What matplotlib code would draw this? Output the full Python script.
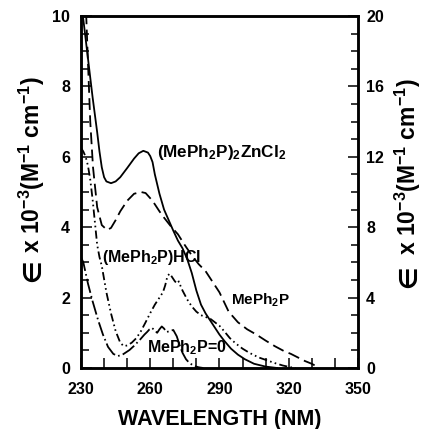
import matplotlib
matplotlib.use("Agg")
import matplotlib.pyplot as plt
from matplotlib.ticker import MultipleLocator

plt.rcParams['font.family'] = ['Liberation Sans', 'DejaVu Sans']
plt.rcParams['font.weight'] = 'bold'
plt.rcParams['mathtext.fontset'] = 'custom'
plt.rcParams['mathtext.rm'] = 'Liberation Sans:bold'
plt.rcParams['mathtext.it'] = 'Liberation Sans:bold'
plt.rcParams['mathtext.bf'] = 'Liberation Sans:bold'
plt.rcParams['mathtext.default'] = 'rm'

# (MePh2P)2ZnCl2 - solid
zn_x = [230, 231, 233, 235, 237, 238, 239, 240, 241, 243, 245, 247, 250, 253, 255, 257, 259, 260,
        261, 262, 264, 266, 268, 270, 272, 274, 276, 278, 280, 282, 284, 286, 288, 290, 292, 295,
        298, 301, 305, 310, 315]
zn_y = [10.3, 9.9, 8.8, 7.7, 6.7, 6.15, 5.7, 5.42, 5.3, 5.25, 5.3, 5.42, 5.68, 5.95, 6.1, 6.17, 6.12, 6.02,
        5.85, 5.5, 4.95, 4.5, 4.2, 3.9, 3.62, 3.4, 3.1, 2.7, 2.2, 1.8, 1.55, 1.35, 1.15, 0.95, 0.78, 0.55,
        0.38, 0.25, 0.12, 0.04, 0.0]

# MePh2P - long dashed
p_x = [232.2, 233, 234, 235.2, 237, 239, 241.3, 243, 245, 247, 250, 253, 256, 258, 261, 264, 266, 269,
       272, 275, 278, 281, 284, 287, 290, 294, 298, 302, 306, 310, 314, 318, 321, 324, 327, 330, 332, 333]
p_y = [10.1, 8.7, 7.0, 5.7, 4.57, 4.06, 3.92, 3.98, 4.2, 4.45, 4.75, 4.95, 5.0, 4.97, 4.75, 4.45, 4.27, 4.02,
       3.8, 3.49, 3.2, 2.95, 2.75, 2.45, 2.15, 1.6, 1.3, 1.1, 0.95, 0.78, 0.62, 0.48, 0.4, 0.3, 0.2, 0.12,
       0.05, 0.0]

# (MePh2P)HCl - dash-dot-dot
h_x = [230, 231, 232, 233, 234, 235, 236, 237, 238, 239, 241, 243, 245, 247, 248.5, 250, 252, 254, 256, 258,
       260, 262, 264, 265.5, 266.5, 267.5, 268.5, 269.5, 270.5, 271.5, 272.4, 273.2, 274, 276, 278, 280,
       282, 284, 286, 288, 290, 292, 294.5, 297, 300, 303, 307, 310.5, 314, 317.5, 321, 323]
h_y = [6.25, 6.15, 6.0, 5.75, 5.35, 4.8, 4.15, 3.5, 3.15, 2.9, 2.15, 1.55, 1.05, 0.72, 0.62, 0.64, 0.72,
       0.85, 1.05, 1.3, 1.56, 1.8, 2.0, 2.15, 2.35, 2.62, 2.68, 2.58, 2.48, 2.4, 2.46, 2.32, 2.2, 1.95,
       1.75, 1.6, 1.5, 1.45, 1.4, 1.3, 1.2, 1.05, 0.85, 0.7, 0.55, 0.43, 0.3, 0.22, 0.14, 0.07, 0.02, 0.0]

# MePh2P=0 - dash-dot
o_x = [230, 231, 233, 235, 237.4, 239.5, 241.7, 244, 246, 248, 251, 253, 255.5, 257.5, 258.6, 259.7,
       260.7, 261.8, 263, 264, 265, 266, 267, 268.5, 270, 271.5, 273, 274, 275.5, 277, 279, 281, 283]
o_y = [3.15, 3.0, 2.4, 1.9, 1.36, 0.95, 0.6, 0.4, 0.34, 0.38, 0.51, 0.63, 0.8, 0.95, 1.02, 1.1,
       1.14, 1.08, 1.0, 1.1, 1.18, 1.12, 1.02, 1.05, 1.08, 0.9, 0.6, 0.43, 0.25, 0.14, 0.06, 0.02, 0.0]

x_ticks = [230, 260, 290, 320, 350]
left_ticks = [0, 2, 4, 6, 8, 10]
right_ticks = [0, 4, 8, 12, 16, 20]

W, H = 422, 429
fig = plt.figure(figsize=(W / 100, H / 100), dpi=100)
ax = fig.add_axes([0.192, 0.1422, 0.656, 0.8205])

lw = 1.3
ax.plot(zn_x, zn_y, color='black', lw=lw, ls='-')
ax.plot(p_x, p_y, color='black', lw=lw, ls=(0, (6.5, 3)))
ax.plot(h_x, h_y, color='black', lw=lw, ls=(0, (4.5, 1.8, 0.9, 1.8, 0.9, 1.8)))
ax.plot(o_x, o_y, color='black', lw=lw, ls=(0, (8, 1.8, 0.9, 1.8)))

ax.set_xlim(230, 350)
ax.set_ylim(0, 10)
ax.set_xticks(x_ticks)
ax.xaxis.set_minor_locator(MultipleLocator(10))
ax.set_yticks(left_ticks)
ax.yaxis.set_minor_locator(MultipleLocator(0.5))

for s in ax.spines.values():
    s.set_linewidth(1.8)

ax.tick_params(axis='x', which='both', direction='in', top=False, length=7, width=1.1,
               labelsize=11.5, pad=10)
ax.tick_params(axis='y', which='major', direction='in', right=False, length=8, width=1.1,
               labelsize=11.5, pad=8)
ax.tick_params(axis='y', which='minor', direction='in', right=False, length=5.5, width=1.1)

ax2 = ax.twinx()
ax2.set_ylim(0, 20)
ax2.set_yticks(right_ticks)
ax2.yaxis.set_minor_locator(MultipleLocator(1))
ax2.tick_params(axis='y', which='major', direction='in', length=7, width=1.1, labelsize=11.5, pad=6)
ax2.tick_params(axis='y', which='minor', direction='in', length=5, width=1.1)
for s in ax2.spines.values():
    s.set_linewidth(1.8)

for lab in ax.get_xticklabels() + ax.get_yticklabels() + ax2.get_yticklabels():
    lab.set_fontweight('bold')

fig.text(220 / W, 1 - 425 / H, 'WAVELENGTH (NM)', fontsize=15.5, fontweight='bold',
         ha='center', va='baseline')

# rotated y labels: epsilon symbol drawn separately (DejaVu Sans has it)
ylab_rest = 'x 10$^{-3}$(M$^{-1}$ cm$^{-1}$)'
def ylabel_at(xb, y_eps_bottom, y_rest_bottom):
    fig.text(xb / W, 1 - y_eps_bottom / H, '\u2208', rotation=90, rotation_mode='anchor',
             ha='left', va='baseline', fontsize=18, fontweight='bold', family='DejaVu Sans')
    fig.text(xb / W, 1 - y_rest_bottom / H, ylab_rest, rotation=90, rotation_mode='anchor',
             ha='left', va='baseline', fontsize=16.5, fontweight='bold')

ylabel_at(40, 282, 253)
ylabel_at(416, 288, 255)

fs = 11.5
ax.text(262.9, 5.99, '(MePh$_2$P)$_2$ZnCl$_2$', fontsize=12.3, fontweight='bold', ha='left', va='baseline')
ax.text(239.1, 3.01, '(MePh$_2$P)HCl', fontsize=fs, fontweight='bold', ha='left', va='baseline')
ax.text(294.9, 1.79, 'MePh$_2$P', fontsize=11, fontweight='bold', ha='left', va='baseline')
ax.text(258.6, 0.44, 'MePh$_2$P=0', fontsize=fs, fontweight='bold', ha='left', va='baseline')

fig.savefig('out.png', dpi=100)
